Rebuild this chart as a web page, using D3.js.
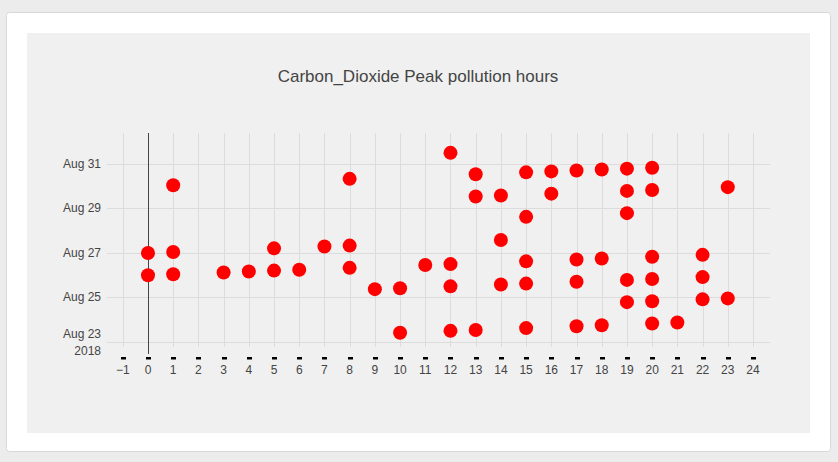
<!DOCTYPE html>
<html>
<head>
<meta charset="utf-8">
<script src="https://cdn.jsdelivr.net/npm/d3@7"></script>
<style>
    body { margin: 0; background: #ececec; font-family: "Liberation Sans", Arial, sans-serif; }
    svg { display: block; }
</style>
</head>
<body>
<svg id="chart" width="838" height="462"></svg>
<script>
/* ===== DATA ===== */

const chartTitle = "Carbon_Dioxide Peak pollution hours";

// one entry per peak: hour of day + the day in August 2018
const peakHours = [
    0, 0,
    1, 1, 1,
    3, 4,
    5, 5,
    6, 7,
    8, 8, 8,
    9,
    10, 10,
    11,
    12, 12, 12, 12,
    13, 13, 13,
    14, 14, 14,
    15, 15, 15, 15, 15,
    16, 16,
    17, 17, 17, 17,
    18, 18, 18,
    19, 19, 19, 19, 19,
    20, 20, 20, 20, 20, 20,
    21,
    22, 22, 22,
    23, 23
];
const peakDays = [
    27, 26,
    30, 27, 26,
    26, 26,
    27, 26,
    26, 27,
    30, 27, 26,
    25,
    25, 23,
    26,
    31, 26, 25, 23,
    30, 29, 23,
    29, 27, 25,
    30, 28, 26, 25, 23,
    30, 29,
    30, 26, 25, 23,
    30, 26, 23,
    30, 29, 28, 25, 24,
    30, 29, 26, 25, 24, 23,
    23,
    26, 25, 24,
    29, 24
];

const xTicks = d3.range(-1, 25);
const yTickDays = [23, 25, 27, 29, 31];

/* ===== SETUP ===== */

const svg = d3.select("#chart");

// card + paper
svg.append("rect")
    .attr("x", 6.5).attr("y", 12.5)
    .attr("width", 824).attr("height", 439)
    .attr("rx", 3)
    .attr("fill", "#fff")
    .attr("stroke", "#d8d8d8");

svg.append("rect")
    .attr("x", 27).attr("y", 33)
    .attr("width", 783).attr("height", 400)
    .attr("fill", "#f0f0f0");

svg.append("text")
    .attr("x", 418).attr("y", 82)
    .attr("text-anchor", "middle")
    .attr("fill", "#444")
    .style("font-size", "17px")
    .text(chartTitle);

const plot = { left: 107, right: 770, top: 133, bottom: 347 };

const x = d3.scaleLinear()
    .domain([-1.626, 24.675])
    .range([plot.left, plot.right]);

const y = d3.scaleTime()
    .domain([new Date(2018, 7, 22, 18, 36), new Date(2018, 8, 1, 9, 26)])
    .range([plot.bottom, plot.top]);

const points = peakHours.map((h, i) => ({
    hour: h,
    time: new Date(2018, 7, peakDays[i], h)
}));

/* ===== GRID ===== */

const grid = svg.append("g").attr("stroke", "#dcdcdc").attr("stroke-width", 1);

grid.selectAll(".vgrid")
    .data(xTicks.filter(t => t !== 0))
    .enter().append("line")
    .attr("x1", d => Math.round(x(d)) + 0.5)
    .attr("x2", d => Math.round(x(d)) + 0.5)
    .attr("y1", plot.top)
    .attr("y2", plot.bottom);

grid.selectAll(".hgrid")
    .data(yTickDays)
    .enter().append("line")
    .attr("x1", plot.left)
    .attr("x2", plot.right)
    .attr("y1", d => Math.round(y(new Date(2018, 7, d))) + 0.5)
    .attr("y2", d => Math.round(y(new Date(2018, 7, d))) + 0.5);

// zero line
svg.append("line")
    .attr("x1", Math.round(x(0)) + 0.5)
    .attr("x2", Math.round(x(0)) + 0.5)
    .attr("y1", plot.top)
    .attr("y2", 354)
    .attr("stroke", "#444");

/* ===== AXES ===== */

const yAxis = svg.append("g")
    .attr("fill", "#444")
    .style("font-size", "12px")
    .attr("text-anchor", "end");

yTickDays.forEach(d => {
    const yy = y(new Date(2018, 7, d));
    if (d === 23) {
        yAxis.append("text").attr("x", 101).attr("y", yy - 4).text(d3.timeFormat("%b %d")(new Date(2018, 7, d)));
        yAxis.append("text").attr("x", 101).attr("y", yy + 13).text("2018");
    } else {
        yAxis.append("text").attr("x", 101).attr("y", yy + 4).text(d3.timeFormat("%b %d")(new Date(2018, 7, d)));
    }
});

const xAxis = svg.append("g");

xAxis.selectAll(".dash")
    .data(xTicks)
    .enter().append("rect")
    .attr("x", d => Math.round(x(d)) - 2)
    .attr("y", 357)
    .attr("width", 5)
    .attr("height", 2.5)
    .attr("fill", "#000");

xAxis.selectAll(".xlab")
    .data(xTicks)
    .enter().append("text")
    .attr("x", d => x(d))
    .attr("y", 374)
    .attr("text-anchor", "middle")
    .attr("fill", "#444")
    .style("font-size", "12px")
    .text(d => d < 0 ? "\u2212" + Math.abs(d) : d);

/* ===== MARKERS ===== */

svg.append("g")
    .selectAll("circle")
    .data(points)
    .enter().append("circle")
    .attr("cx", d => x(d.hour))
    .attr("cy", d => y(d.time))
    .attr("r", 7)
    .attr("fill", "#ff0000");
</script>
</body>
</html>
